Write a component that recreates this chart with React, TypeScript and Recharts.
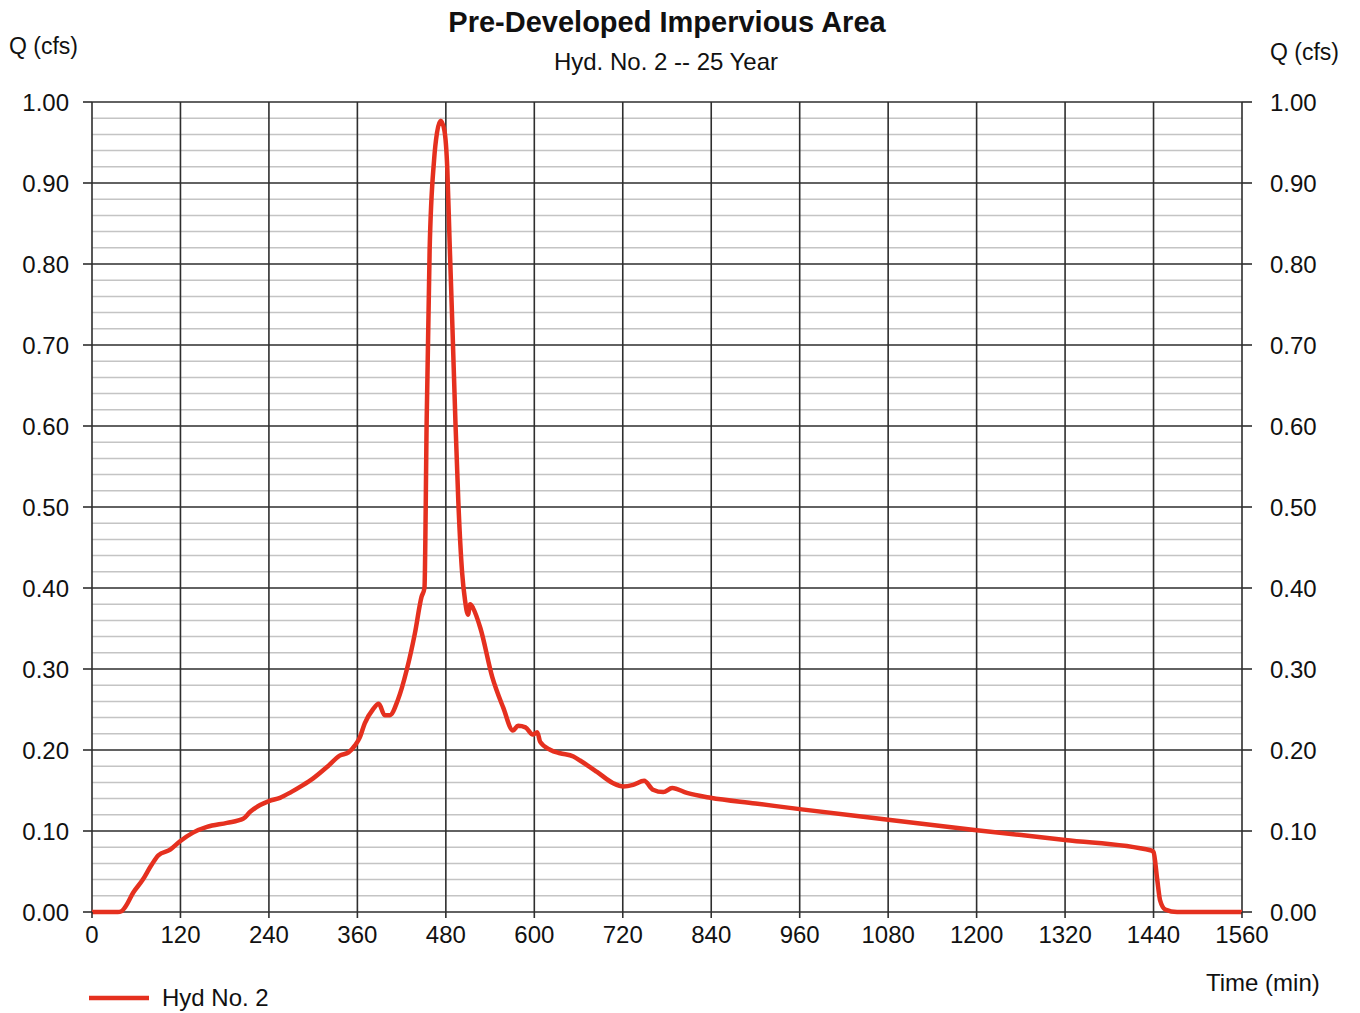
import React from 'react';
import { LineChart, Line, XAxis, YAxis, ReferenceLine } from 'recharts';

const timeMin = [0, 35, 40, 45, 56, 69, 80, 90, 106, 119, 137, 156, 183, 205, 215, 228, 240, 255, 270, 285, 300, 320, 336, 348, 357, 363, 370, 381, 389, 397, 404, 415, 427, 438, 447, 451, 454, 458, 464, 468, 473, 478, 482, 485, 489, 493, 497, 502, 506, 510, 513, 517, 527, 543, 558, 571, 578, 588, 598, 604, 608, 622, 635, 653, 662, 685, 707, 721, 734, 749, 761, 775, 787, 807, 839, 900, 960, 1080, 1200, 1320, 1437, 1440, 1445, 1449, 1456, 1472, 1560];
const flowCfs = [0, 0, 0.001, 0.006, 0.024, 0.04, 0.057, 0.07, 0.077, 0.087, 0.098, 0.105, 0.11, 0.115, 0.124, 0.132, 0.137, 0.141, 0.148, 0.156, 0.165, 0.18, 0.193, 0.197, 0.206, 0.215, 0.233, 0.25, 0.257, 0.243, 0.243, 0.262, 0.299, 0.344, 0.389, 0.4, 0.607, 0.817, 0.928, 0.962, 0.977, 0.965, 0.917, 0.83, 0.72, 0.605, 0.505, 0.42, 0.385, 0.367, 0.38, 0.375, 0.35, 0.29, 0.252, 0.224, 0.23, 0.228, 0.219, 0.222, 0.21, 0.2, 0.196, 0.192, 0.187, 0.173, 0.159, 0.155, 0.157, 0.162, 0.151, 0.148, 0.153, 0.147, 0.141, 0.134, 0.127, 0.114, 0.101, 0.089, 0.076, 0.074, 0.04, 0.014, 0.003, 0, 0];

const xTicks = [0, 120, 240, 360, 480, 600, 720, 840, 960, 1080, 1200, 1320, 1440, 1560];
const yTicks = [0, 0.1, 0.2, 0.3, 0.4, 0.5, 0.6, 0.7, 0.8, 0.9, 1.0];
const yMinor = [0.02, 0.04, 0.06, 0.08, 0.12, 0.14, 0.16, 0.18, 0.22, 0.24, 0.26, 0.28, 0.32, 0.34, 0.36, 0.38, 0.42, 0.44, 0.46, 0.48, 0.52, 0.54, 0.56, 0.58, 0.62, 0.64, 0.66, 0.68, 0.72, 0.74, 0.76, 0.78, 0.82, 0.84, 0.86, 0.88, 0.92, 0.94, 0.96, 0.98];

const seriesName = 'Hyd No. 2';
const data = timeMin.map((t, i) => ({ t, q: flowCfs[i] }));

const FONT = '"Liberation Sans", Arial, sans-serif';
const RED = '#e5301f';
const MAJOR = '#2e2e2e';
const MINOR = '#c4c4c4';

const tickStyle = { fontSize: 24, fill: '#111', fontFamily: FONT };

export default function App() {
  return (
    <div style={{ position: 'absolute', left: 0, top: 0, width: 1360, height: 1013, background: '#fff', fontFamily: FONT, color: '#111' }}>
      <div style={{ position: 'absolute', left: 0, width: 1334, top: 5, textAlign: 'center', fontSize: 29, fontWeight: 'bold', lineHeight: '34px' }}>
        Pre-Developed Impervious Area
      </div>
      <div style={{ position: 'absolute', left: 0, width: 1332, top: 48, textAlign: 'center', fontSize: 24, lineHeight: '28px' }}>
        Hyd. No. 2 -- 25 Year
      </div>
      <div style={{ position: 'absolute', left: 9, top: 32, fontSize: 23, lineHeight: '28px' }}>Q (cfs)</div>
      <div style={{ position: 'absolute', left: 1270, top: 38, fontSize: 23, lineHeight: '28px' }}>Q (cfs)</div>
      <div style={{ position: 'absolute', left: 1206, top: 969, fontSize: 24, lineHeight: '28px' }}>Time (min)</div>
      <div style={{ position: 'absolute', left: 88, top: 984, display: 'flex', alignItems: 'center', fontSize: 24, lineHeight: '28px' }}>
        <svg width={62} height={10} style={{ marginRight: 12 }}>
          <line x1={1} y1={5} x2={61} y2={5} stroke={RED} strokeWidth={4.5} />
        </svg>
        <span>{seriesName}</span>
      </div>
      <LineChart width={1360} height={1013} data={data} margin={{ top: 102, right: 18, bottom: 61, left: 0 }} style={{ position: 'absolute', left: 0, top: 0 }}>
        {yMinor.map((v) => (
          <ReferenceLine key={'m' + v} yAxisId="left" y={v} stroke={MINOR} strokeWidth={1.5} />
        ))}
        {yTicks.map((v) => (
          <ReferenceLine key={'y' + v} yAxisId="left" y={v} stroke={MAJOR} strokeWidth={1.6} />
        ))}
        {xTicks.map((v) => (
          <ReferenceLine key={'x' + v} yAxisId="left" x={v} stroke={MAJOR} strokeWidth={1.6} />
        ))}
        <XAxis
          dataKey="t"
          type="number"
          domain={[0, 1560]}
          ticks={xTicks}
          interval={0}
          height={40}
          tick={tickStyle}
          tickSize={6}
          tickMargin={8}
          axisLine={false}
          tickLine={{ stroke: MAJOR, strokeWidth: 1.6 }}
        />
        <YAxis
          yAxisId="left"
          orientation="left"
          type="number"
          domain={[0, 1]}
          ticks={yTicks}
          interval={0}
          width={92}
          tick={tickStyle}
          tickFormatter={(v: number) => v.toFixed(2)}
          tickSize={9}
          tickMargin={14}
          axisLine={false}
          tickLine={{ stroke: MAJOR, strokeWidth: 1.6 }}
        />
        <YAxis
          yAxisId="right"
          orientation="right"
          type="number"
          domain={[0, 1]}
          ticks={yTicks}
          interval={0}
          width={100}
          tick={tickStyle}
          tickFormatter={(v: number) => v.toFixed(2)}
          tickSize={10}
          tickMargin={18}
          axisLine={false}
          tickLine={{ stroke: MAJOR, strokeWidth: 1.6 }}
        />
        <Line
          yAxisId="right"
          type="monotone"
          dataKey="q"
          stroke="none"
          strokeWidth={0}
          dot={false}
          activeDot={false}
          legendType="none"
          isAnimationActive={false}
        />
        <Line
          yAxisId="left"
          type="monotone"
          dataKey="q"
          name={seriesName}
          stroke={RED}
          strokeWidth={4.5}
          dot={false}
          isAnimationActive={false}
        />
      </LineChart>
    </div>
  );
}
